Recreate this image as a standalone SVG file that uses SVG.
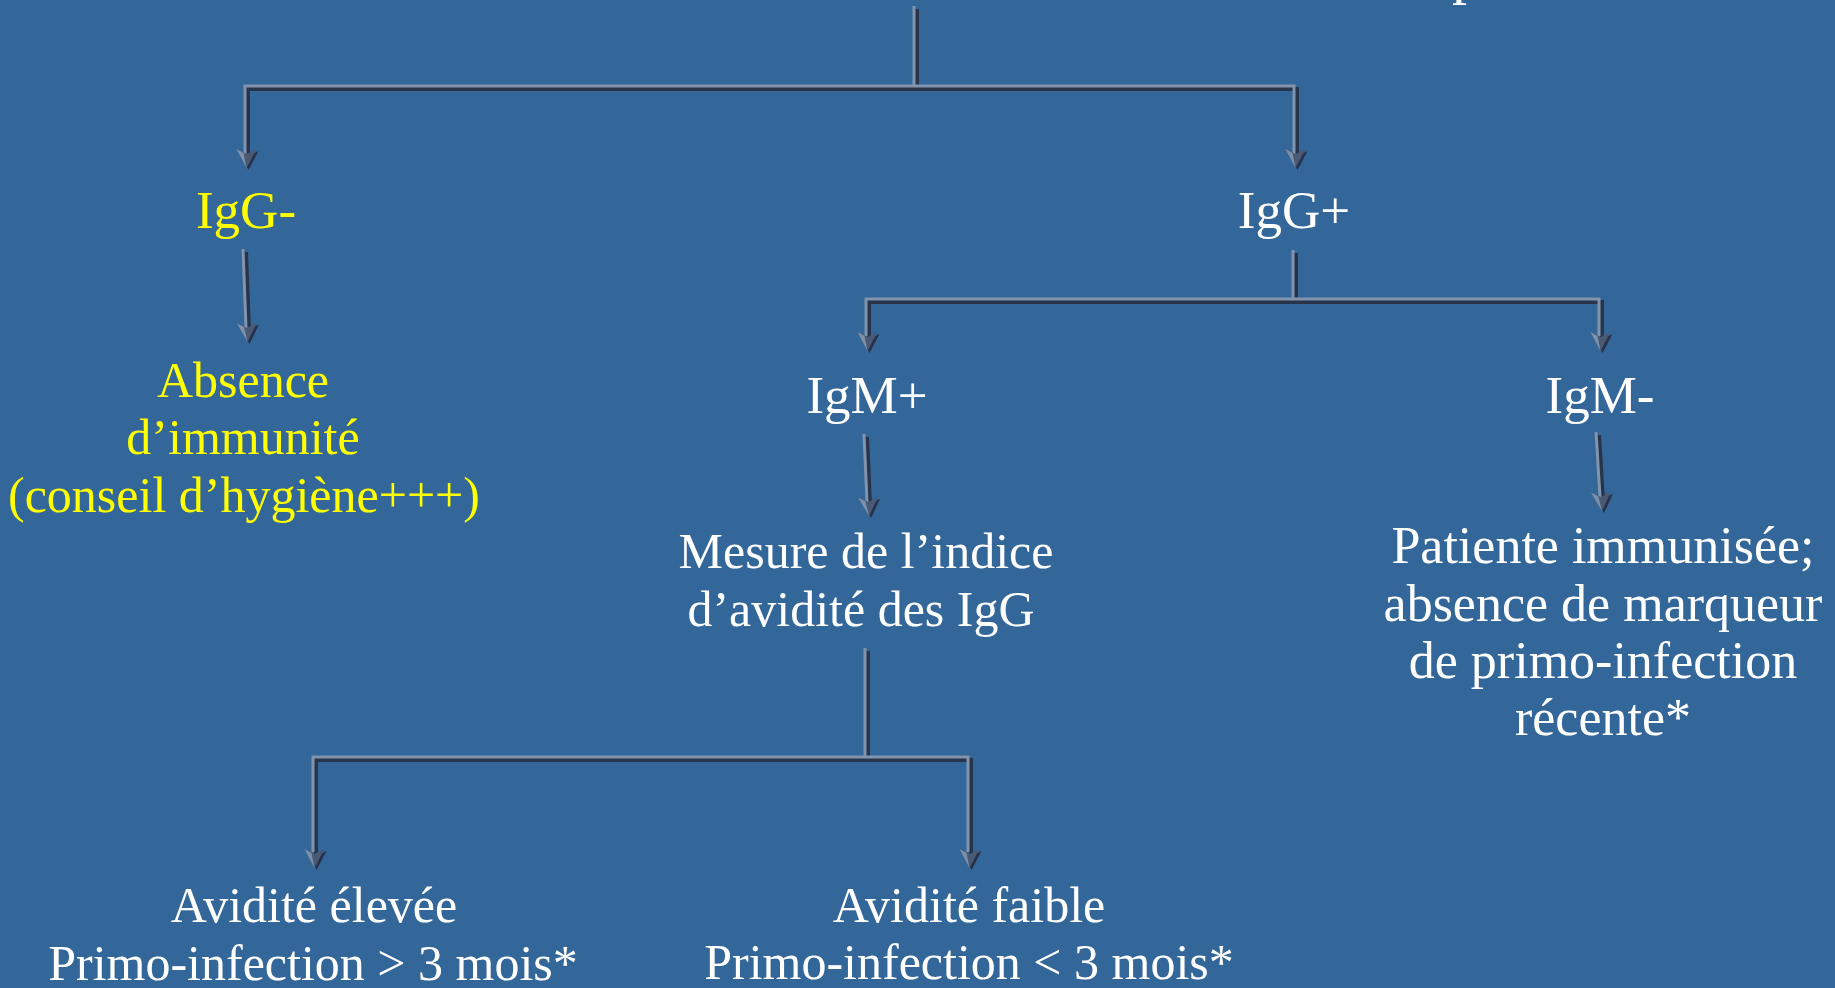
<svg xmlns="http://www.w3.org/2000/svg" xmlns:xlink="http://www.w3.org/1999/xlink" width="1835" height="988" viewBox="0 0 1835 988">
<style>
  text { font-family: "Liberation Serif", "Times New Roman", serif; text-anchor: middle; }
  .y { fill: #FFFF00; }
  .w { fill: #FFFFFF; }
  .ig { font-size: 53px; }
  .b { font-size: 50px; }
  .b2 { font-size: 52px; }
  .hl { fill: none; stroke: #8294ad; stroke-width: 3; }
  .sh { fill: none; stroke: #28344a; stroke-width: 4; }
</style>
<defs>
  <g id="head">
    <path d="M2,2 L-8,-17 L2,-12 L12,-17 Z" fill="#27324a"/>
    <path d="M0,0 L-10,-19 L0,-14 L10,-19 Z" fill="#4a5a75"/>
    <path d="M0,0 L-10,-19 L-3,-15 Z" fill="#7f90aa"/>
  </g>
</defs>
<rect x="0" y="0" width="1835" height="988" fill="#336699"/>

<text class="w" x="1467" y="-8" style="font-size:60px">p</text>

<g id="connectors">
  <!-- root split -->
  <g>
    <path class="sh" transform="translate(3,3)" d="M914,6 V86 M245,154 V86 H1294 V154"/>
    <path class="hl" d="M914,6 V86 M245,154 V86 H1294 V154"/>
    <use xlink:href="#head" href="#head" transform="translate(246.5,168)"/>
    <use xlink:href="#head" href="#head" transform="translate(1295.5,168)"/>
  </g>
  <!-- IgG- to Absence -->
  <g>
    <path class="sh" transform="translate(3,3)" d="M243,249 L246,328"/>
    <path class="hl" d="M243,249 L246,328"/>
    <use xlink:href="#head" href="#head" transform="translate(247.5,342) rotate(-2)"/>
  </g>
  <!-- IgG+ split -->
  <g>
    <path class="sh" transform="translate(3,3)" d="M1293,250 V299 M866,336 V299 H1599 V336"/>
    <path class="hl" d="M1293,250 V299 M866,336 V299 H1599 V336"/>
    <use xlink:href="#head" href="#head" transform="translate(867.5,351)"/>
    <use xlink:href="#head" href="#head" transform="translate(1600.5,351)"/>
  </g>
  <!-- IgM+ to Mesure -->
  <g>
    <path class="sh" transform="translate(3,3)" d="M864,434 L867,502"/>
    <path class="hl" d="M864,434 L867,502"/>
    <use xlink:href="#head" href="#head" transform="translate(869,516) rotate(-2.5)"/>
  </g>
  <!-- IgM- to Patiente -->
  <g>
    <path class="sh" transform="translate(3,3)" d="M1596,432 L1600,497"/>
    <path class="hl" d="M1596,432 L1600,497"/>
    <use xlink:href="#head" href="#head" transform="translate(1602,511) rotate(-3)"/>
  </g>
  <!-- Mesure split -->
  <g>
    <path class="sh" transform="translate(3,3)" d="M865,648 V757 M313,852 V757 H968 V852"/>
    <path class="hl" d="M865,648 V757 M313,852 V757 H968 V852"/>
    <use xlink:href="#head" href="#head" transform="translate(314.5,868)"/>
    <use xlink:href="#head" href="#head" transform="translate(969.5,868)"/>
  </g>
</g>

<g id="node-igg-neg"><text class="y ig" x="246" y="228">IgG-</text></g>
<g id="node-absence">
  <text class="y b" x="243" y="397">Absence</text>
  <text class="y b" x="243" y="454">d’immunité</text>
  <text class="y b" x="244" y="512">(conseil d’hygiène+++)</text>
</g>
<g id="node-igg-pos"><text class="w ig" x="1294" y="228">IgG+</text></g>
<g id="node-igm-pos"><text class="w ig" x="867" y="413">IgM+</text></g>
<g id="node-igm-neg"><text class="w ig" x="1600" y="413">IgM-</text></g>
<g id="node-mesure">
  <text class="w b" x="866" y="568">Mesure de l’indice</text>
  <text class="w b" x="861" y="626">d’avidité des IgG</text>
</g>
<g id="node-patiente">
  <text class="w b2" x="1603" y="563">Patiente immunisée;</text>
  <text class="w b2" x="1603" y="621">absence de marqueur</text>
  <text class="w b2" x="1603" y="678">de primo-infection</text>
  <text class="w b2" x="1603" y="735">récente*</text>
</g>
<g id="node-elevee">
  <text class="w b" x="314" y="922">Avidité élevée</text>
  <text class="w b" x="313" y="980">Primo-infection &gt; 3 mois*</text>
</g>
<g id="node-faible">
  <text class="w b" x="969" y="922">Avidité faible</text>
  <text class="w b" x="969" y="979">Primo-infection &lt; 3 mois*</text>
</g>
</svg>
